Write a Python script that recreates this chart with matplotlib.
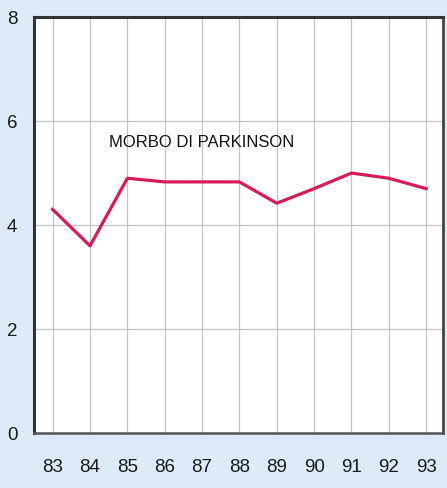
import matplotlib
matplotlib.use('Agg')
import matplotlib.pyplot as plt

plt.rcParams['font.family'] = ['Liberation Sans', 'DejaVu Sans']

years = [83, 84, 85, 86, 87, 88, 89, 90, 91, 92, 93]
values = [4.3, 3.6, 4.9, 4.83, 4.83, 4.83, 4.42, 4.7, 5.0, 4.9, 4.7]
year_labels = [str(y) for y in years]
y_ticks = [0, 2, 4, 6, 8]
label = 'MORBO DI PARKINSON'

fig = plt.figure(figsize=(4.47, 4.88), dpi=100)
fig.patch.set_facecolor('#dcebf7')
ax = fig.add_axes([0.076, 0.1127, 0.915, 0.8523])
ax.set_facecolor('white')

ax.plot(years, values, color='#d81a55', linewidth=2.3, zorder=3)

ax.set_xlim(82.5, 93.45)
ax.set_ylim(0, 8)
ax.set_xticks(years)
ax.set_xticklabels(year_labels)
ax.set_yticks(y_ticks)
ax.tick_params(length=0, labelsize=13.5, colors='#1a1a1a')
ax.tick_params(axis='x', pad=19)
ax.tick_params(axis='y', pad=12)
ax.grid(True, color='#c4c4c4', linewidth=0.9, zorder=1)

for side in ['left', 'top']:
    ax.spines[side].set_linewidth(2.2)
    ax.spines[side].set_color('#333333')
ax.spines['bottom'].set_linewidth(1.8)
ax.spines['bottom'].set_color('#555555')
ax.spines['right'].set_linewidth(2.0)
ax.spines['right'].set_color('#444444')

ax.text(86.98, 5.58, label, fontsize=12, color='#111111', va='center', ha='center')

fig.savefig('out.png', dpi=100, facecolor=fig.get_facecolor())
